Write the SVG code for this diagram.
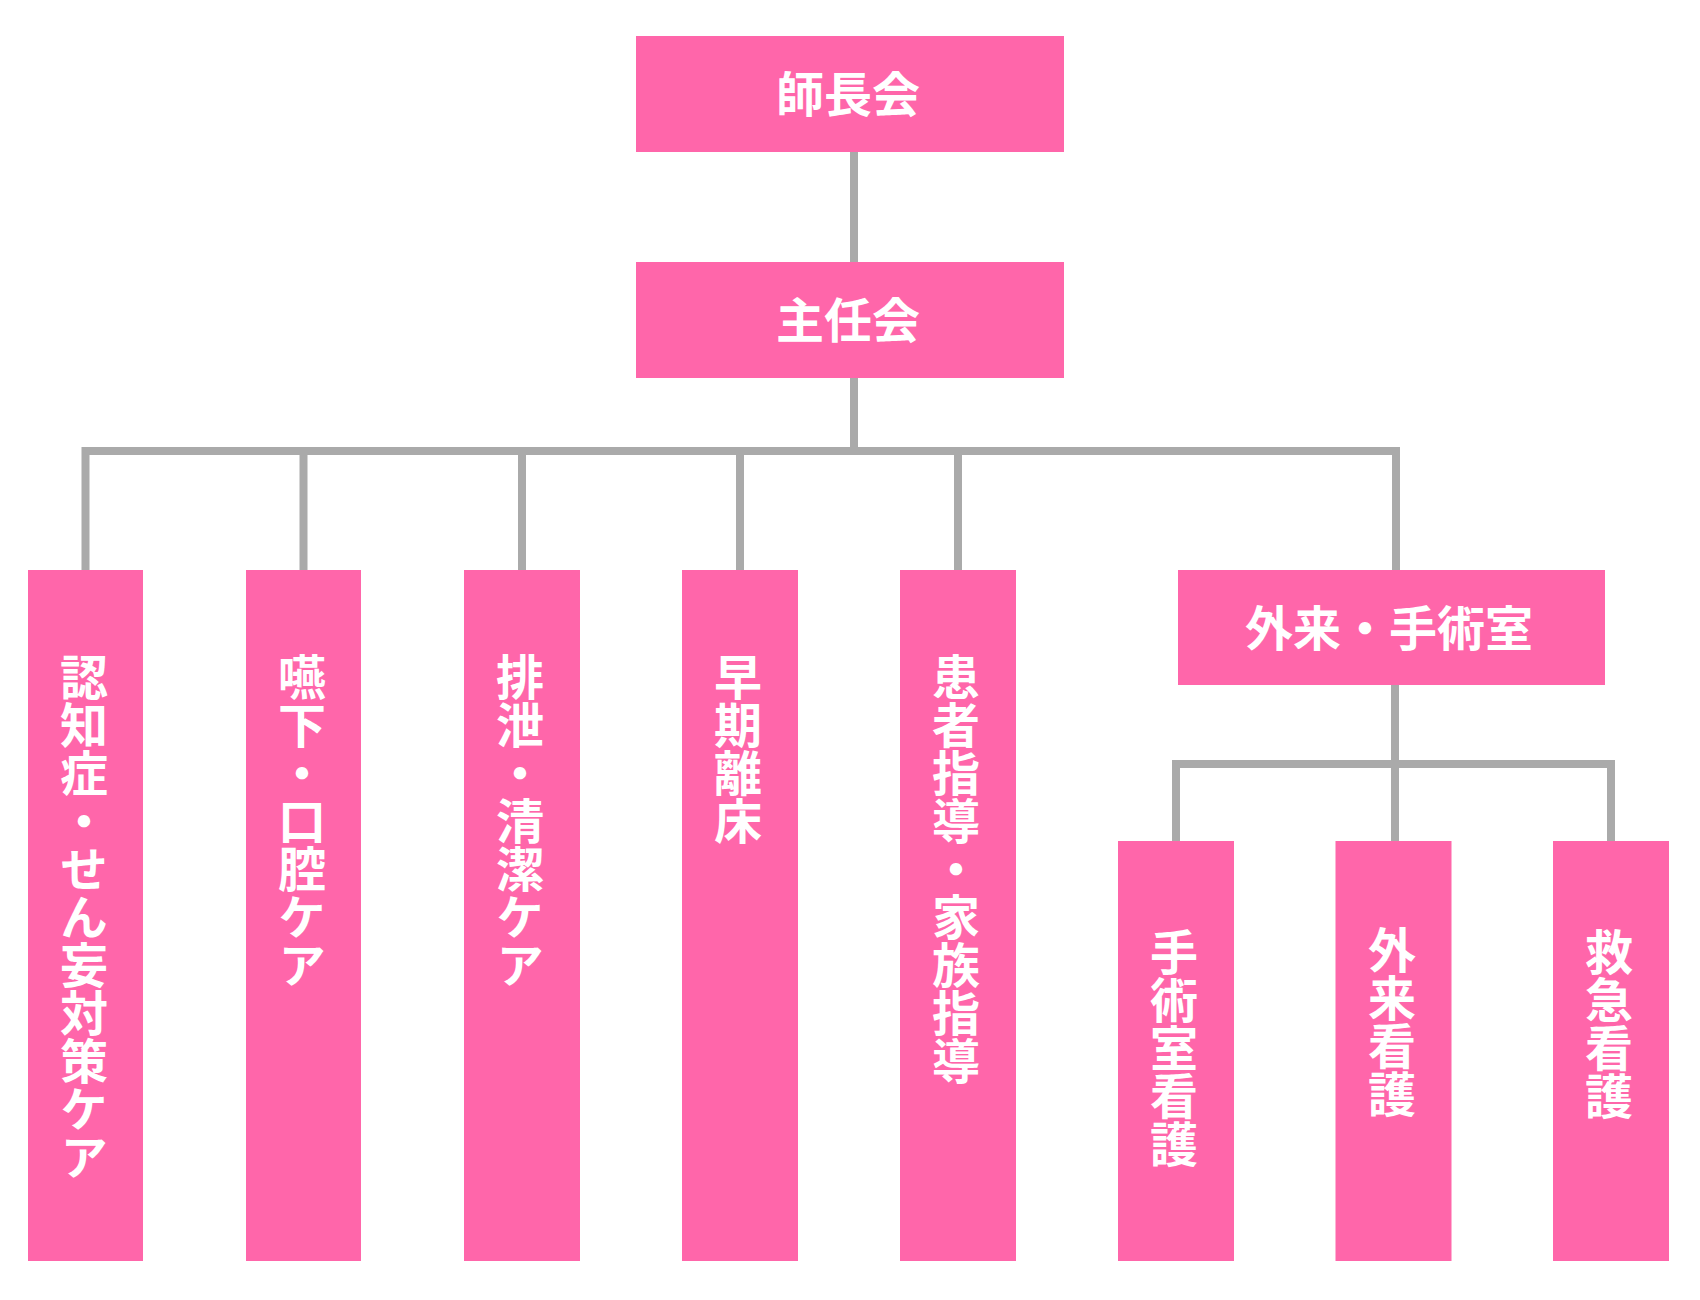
<svg xmlns="http://www.w3.org/2000/svg" width="1700" height="1300" viewBox="0 0 1700 1300">
<style>
.box{fill:#ff66aa}
.t{fill:#ffffff;font-family:"Noto Sans CJK JP","Noto Sans CJK SC",sans-serif;font-weight:700;font-size:48px;text-anchor:middle}
.v{fill:#ffffff;font-family:"Noto Sans CJK JP","Noto Sans CJK SC",sans-serif;font-weight:700;font-size:48px;text-anchor:start;writing-mode:vertical-rl;text-orientation:upright}
.ln{fill:none;stroke:#aaaaaa;stroke-width:8;stroke-linejoin:miter;stroke-linecap:butt}
</style>
<rect width="1700" height="1300" fill="#ffffff"/>
<g id="connectors">
<path class="ln" d="M854 152V262"/>
<path class="ln" d="M854 377V451"/>
<path class="ln" d="M85.5 570V451H1396V570"/>
<path class="ln" d="M303.5 451V570M522 451V570M740 451V570M958 451V570"/>
<path class="ln" d="M1395 685V764"/>
<path class="ln" d="M1176 841V764H1611V841"/>
<path class="ln" d="M1395 764V841"/>
</g>
<g id="n_shichokai">
<rect class="box" x="636" y="36" width="428" height="116"/>
<text class="t" x="848" y="112">師長会</text>
</g>
<g id="n_shuninkai">
<rect class="box" x="636" y="262" width="428" height="116"/>
<text class="t" x="848" y="338">主任会</text>
</g>
<g id="n_ninchisho">
<rect class="box" x="28" y="570" width="115" height="691"/>
<text class="v" x="84" y="653">認知症・せん妄対策ケア</text>
</g>
<g id="n_enge">
<rect class="box" x="246" y="570" width="115" height="691"/>
<text class="v" x="302" y="653">嚥下・口腔ケア</text>
</g>
<g id="n_haisetsu">
<rect class="box" x="464" y="570" width="116" height="691"/>
<text class="v" x="520" y="653">排泄・清潔ケア</text>
</g>
<g id="n_soki">
<rect class="box" x="682" y="570" width="116" height="691"/>
<text class="v" x="738" y="653">早期離床</text>
</g>
<g id="n_kanja">
<rect class="box" x="900" y="570" width="116" height="691"/>
<text class="v" x="956" y="653">患者指導・家族指導</text>
</g>
<g id="n_gairai_shujutsu">
<rect class="box" x="1178" y="570" width="427" height="115"/>
<text class="t" x="1389" y="646">外来・手術室</text>
</g>
<g id="n_shujutsu">
<rect class="box" x="1118" y="841" width="116" height="420"/>
<text class="v" x="1174" y="928">手術室看護</text>
</g>
<g id="n_gairai">
<rect class="box" x="1335.5" y="841" width="116" height="420"/>
<text class="v" x="1392" y="926">外来看護</text>
</g>
<g id="n_kyukyu">
<rect class="box" x="1553" y="841" width="116" height="420"/>
<text class="v" x="1609" y="928">救急看護</text>
</g>
</svg>
